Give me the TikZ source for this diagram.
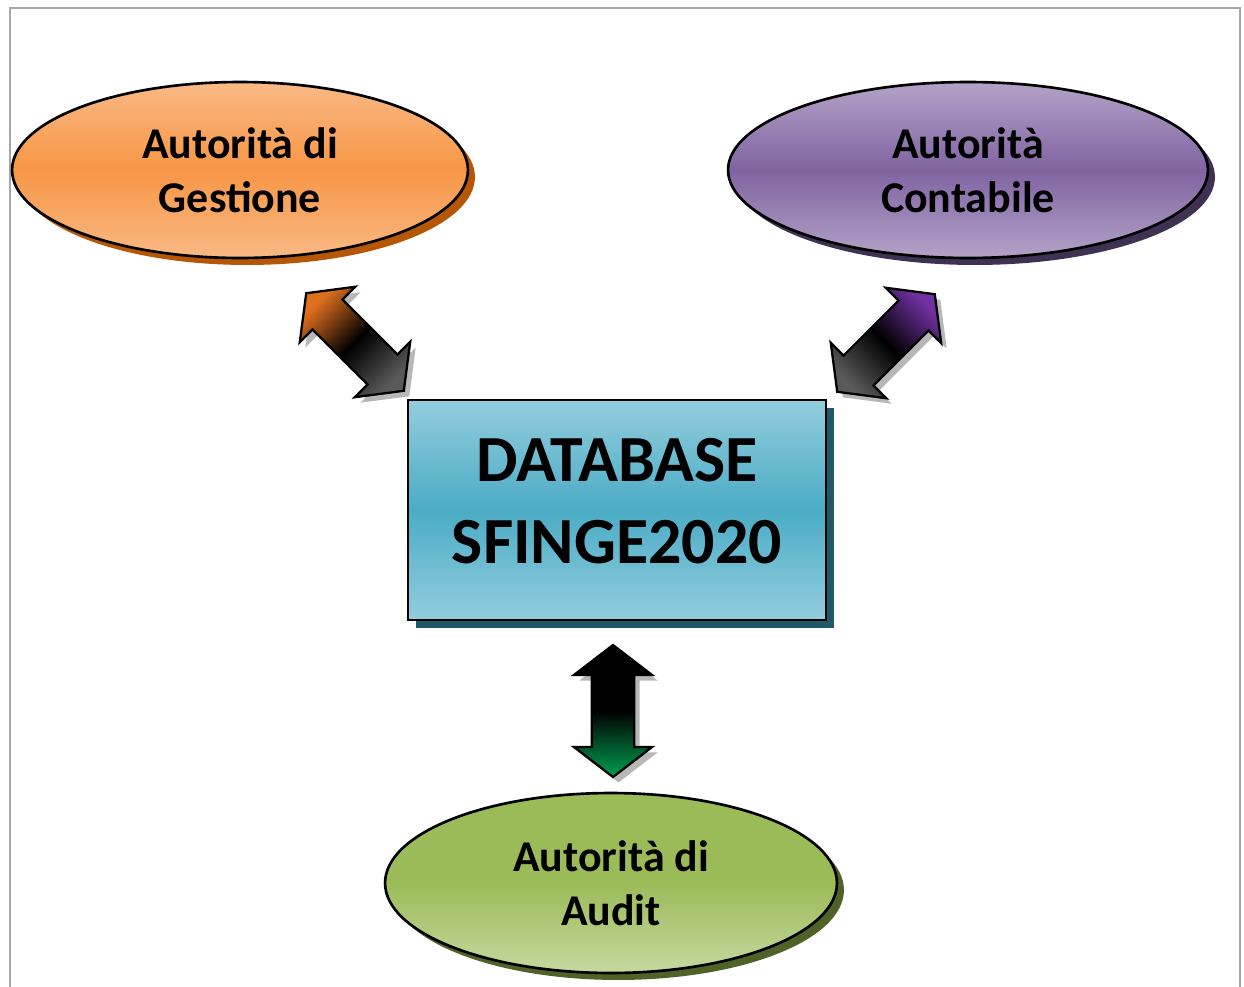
\documentclass[tikz,border=0pt]{standalone}
\usepackage{fontspec}
\setmainfont{Carlito}
\usetikzlibrary{shapes.geometric,shapes.arrows,shadows}

\definecolor{orgmid}{HTML}{F79646}
\definecolor{orglight}{HTML}{F9B985}
\definecolor{orgdark}{HTML}{B65708}
\definecolor{purmid}{HTML}{8064A2}
\definecolor{purlight}{HTML}{B3A2C7}
\definecolor{purdark}{HTML}{3F3151}
\definecolor{tealmid}{HTML}{4BACC6}
\definecolor{teallight}{HTML}{93CDDD}
\definecolor{tealdark}{HTML}{215867}
\definecolor{grnmid}{HTML}{9BBB59}
\definecolor{grnlight}{HTML}{C5D9A0}
\definecolor{grndark}{HTML}{4F6228}
\definecolor{arrorange}{HTML}{E0701E}
\definecolor{arrpurple}{HTML}{7030A0}
\definecolor{arrgreen}{HTML}{00A050}
\definecolor{arrgrey}{HTML}{5A5A5A}

\tikzset{
  ente/.style={ellipse, draw=black, line width=1.5pt, inner sep=0pt, align=center,
    font=\fontsize{25}{30.5}\selectfont\bfseries},
  dbbox/.style={rectangle, draw=black, line width=1.3pt, inner sep=0pt, align=center,
    font=\fontsize{37.5}{47}\selectfont\bfseries, text depth=0.36cm,
    top color=teallight, bottom color=teallight, middle color=tealmid,
    drop shadow={shadow xshift=0.16cm, shadow yshift=-0.16cm, fill=tealdark, opacity=1}},
  dblarrow/.style={double arrow, draw=black, line width=1.3pt, inner xsep=0pt, inner ysep=0.4cm,
    double arrow head extend=0.36cm, double arrow tip angle=105,
    drop shadow={shadow xshift=0.11cm, shadow yshift=-0.11cm, fill=gray!80, opacity=0.7}}
}

\begin{document}
\begin{tikzpicture}[x=0.02cm,y=-0.02cm]
\useasboundingbox (0,0) rectangle (1244,987);
% cornice
\draw[gray!70, line width=1.5pt] (10,987) |- (1240,8) -- (1240,987);

% enti
\node[ente, minimum width=9.12cm, minimum height=3.52cm,
  top color=orglight, bottom color=orglight, middle color=orgmid,
  drop shadow={shadow xshift=0.14cm, shadow yshift=-0.14cm, fill=orgdark, opacity=1}]
  (gestione) at (240,170) {Autorità di\\Gestione};
\node[ente, minimum width=9.6cm, minimum height=3.52cm,
  top color=purlight, bottom color=purlight, middle color=purmid,
  drop shadow={shadow xshift=0.14cm, shadow yshift=-0.14cm, fill=purdark, opacity=1}]
  (contabile) at (968,170) {Autorità\\Contabile};
\node[ente, minimum width=9.04cm, minimum height=3.6cm,
  top color=grnmid, bottom color=grnlight, middle color=grnmid,
  drop shadow={shadow xshift=0.14cm, shadow yshift=-0.14cm, fill=grndark, opacity=1}]
  (audit) at (611,883) {Autorità di\\Audit};

% database
\node[dbbox, minimum width=8.36cm, minimum height=4.4cm] (db) at (617,510) {DATABASE\\SFINGE2020};

% frecce
\node[dblarrow, minimum height=2.76cm, rotate=-45,
  top color=arrorange, bottom color=arrgrey, middle color=black, shading angle=45] (arrGest) at (355,342) {};
\node[dblarrow, minimum height=2.76cm, rotate=45,
  top color=arrpurple, bottom color=arrgrey, middle color=black, shading angle=-45] (arrCont) at (886,343) {};
\node[dblarrow, minimum height=2.64cm, rotate=90,
  top color=black, bottom color=arrgreen, middle color=black] (arrAudit) at (613,711) {};
\end{tikzpicture}
\end{document}
